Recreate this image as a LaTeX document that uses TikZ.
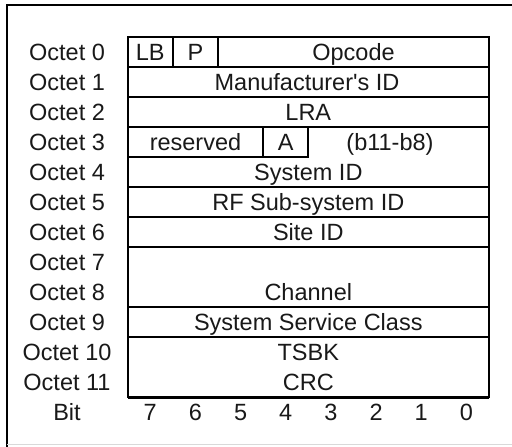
\documentclass[tikz,border=0pt]{standalone}
\usepackage{fontspec}
\setmainfont{Liberation Sans}
\begin{document}
\begin{tikzpicture}[x=1pt,y=-1pt,
  lbl/.style={font=\fontsize{23.5}{25}\selectfont, inner sep=0pt, anchor=center,
              text height=16.8pt, text depth=0pt, text=black!90},
  rule/.style={line width=2pt, line cap=rect}]
\useasboundingbox (0,0) rectangle (512,447);
\fill[white] (0,0) rectangle (512,447);
% outer frame
\draw[line width=2pt] (7,447) -- (7,5) -- (512,5);
\draw[black!15, line width=1pt] (7,444) -- (512,444);

% column boundaries (bit 7 ... bit 0)
\foreach \i in {0,...,8} {\pgfmathsetmacro{\cx}{127.7+45.16*\i}\expandafter\xdef\csname c\i\endcsname{\cx}}
\def\Ct{37}\def\Cb{397}

% table outline and row rules
\draw[rule] (\csname c0\endcsname,\Ct) rectangle (\csname c8\endcsname,\Cb);
\draw[line width=3pt] (\csname c0\endcsname,\Cb) -- (\csname c8\endcsname,\Cb);
\foreach \yy in {67,97,127,187,217,247,307,337}
  \draw[rule] (\csname c0\endcsname,\yy) -- (\csname c8\endcsname,\yy);
\draw[rule] (\csname c0\endcsname,157) -- (\csname c4\endcsname,157);
% field dividers
\draw[rule] (\csname c1\endcsname,37) -- (\csname c1\endcsname,67);
\draw[rule] (\csname c2\endcsname,37) -- (\csname c2\endcsname,67);
\draw[rule] (\csname c3\endcsname,127) -- (\csname c3\endcsname,157);
\draw[rule] (\csname c4\endcsname,127) -- (\csname c4\endcsname,157);

% octet labels
\foreach \k in {0,...,11}
  \node[lbl] (o\k) at (67,52+30*\k) {Octet \k};
\node[lbl] (bit) at (67,412) {Bit};
\foreach \b [count=\j from 0] in {7,6,5,4,3,2,1,0} {
  \pgfmathsetmacro{\bx}{127.7+45.16*\j+22.58}
  \node[lbl] (b\b) at (\bx,412) {\b};
}

% field names
\node[lbl] (lb) at (150.3,52) {LB};
\node[lbl] (p) at (195.5,52) {P};
\node[lbl] (opcode) at (353.5,52) {Opcode};
\node[lbl] (manuf) at (307,82) {Manufacturer\textquotesingle s ID};
\node[lbl] (lra) at (308.3,112) {LRA};
\node[lbl] (reserved) at (195.5,142) {reserved};
\node[lbl] (a) at (285.8,142) {A};
\node[lbl] (b11) at (390,142) {(b11-b8)};
\node[lbl] (sysid) at (308.3,172) {System ID};
\node[lbl] (rfid) at (308.3,202) {RF Sub-system ID};
\node[lbl] (siteid) at (308.3,232) {Site ID};
\node[lbl] (channel) at (308.3,292) {Channel};
\node[lbl] (ssc) at (308.3,322) {System Service Class};
\node[lbl] (tsbk) at (308.3,352) {TSBK};
\node[lbl] (crc) at (308.3,382) {CRC};
\end{tikzpicture}
\end{document}
